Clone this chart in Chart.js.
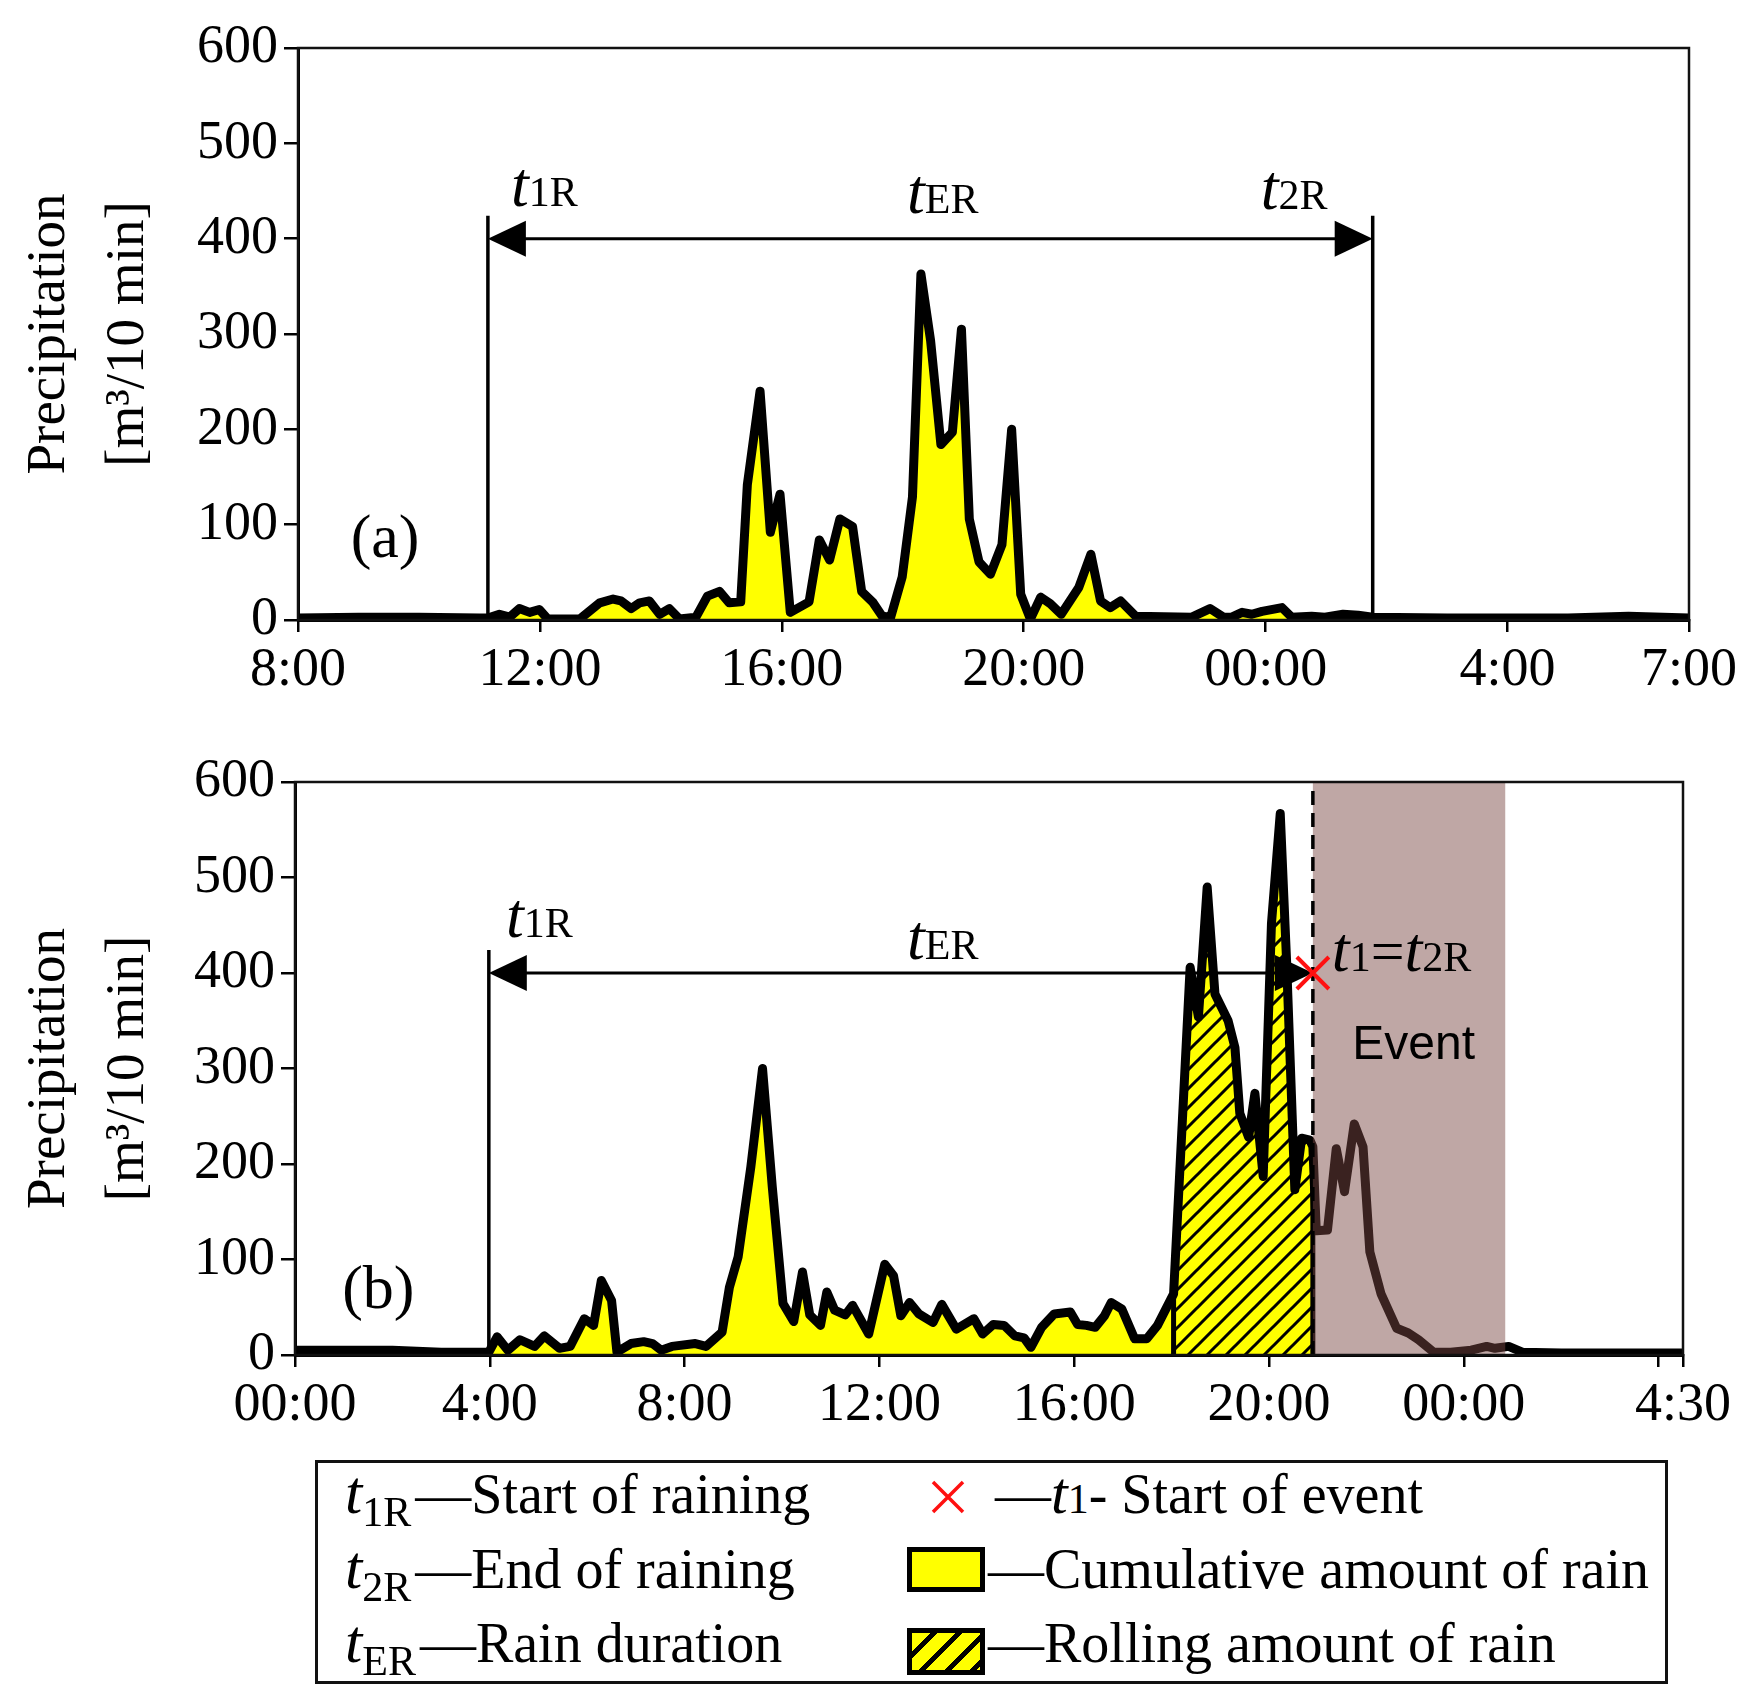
<!doctype html>
<html lang="en">
<head>
<meta charset="utf-8">
<title>Precipitation events</title>
<script src="https://cdn.jsdelivr.net/npm/chart.js"></script>
<style>
  body { margin: 0; background: #fff; }
  .wrap { position: absolute; left: 0; width: 1743px; }
  #legend {
    position: absolute; left: 315px; top: 1460px; width: 1353px; height: 224px;
    border: 3px solid #111; box-sizing: border-box;
    font-family: 'Liberation Serif', 'Times New Roman', serif; font-size: 56px; color: #000;
  }
  .row { position: absolute; line-height: 1; white-space: nowrap; }
  .t { font-style: italic; font-size: 62px; }
  .sub { font-size: 42px; position: relative; top: 13px; margin-right: 4px; }
  .small { font-size: 42px; }
  .swatch { position: absolute; left: 589px; width: 78px; box-sizing: border-box; border: 5px solid #000; background: #ffff00; }
  .hatch { background: repeating-linear-gradient(135deg, #ffff00 0 13px, #000 13px 18px); }
</style>
</head>
<body>
<div class="wrap" style="top:0;height:700px"><canvas id="chartA"></canvas></div>
<div class="wrap" style="top:700px;height:760px"><canvas id="chartB"></canvas></div>

<div id="legend">
  <div class="row" style="left:27px;top:-2px"><span class="t">t</span><span class="sub">1R</span>—Start of raining</div>
  <div class="row" style="left:27px;top:73px"><span class="t">t</span><span class="sub">2R</span>—End of raining</div>
  <div class="row" style="left:27px;top:147px"><span class="t">t</span><span class="sub">ER</span>—Rain duration</div>

  <svg style="position:absolute;left:613px;top:17px" width="34" height="34">
    <path d="M2 2 L32 32 M32 2 L2 32" stroke="#ff1010" stroke-width="3.5"/>
  </svg>
  <div class="row" style="left:677px;top:0px">—<span class="t" style="font-size:60px">t</span><span class="small">1</span>- Start of event</div>
  <div class="swatch" style="top:84px;height:45px"></div>
  <div class="row" style="left:670px;top:78px">—Cumulative amount of rain</div>
  <div class="swatch hatch" style="top:165px;height:47px"></div>
  <div class="row" style="left:670px;top:152px">—Rolling amount of rain</div>
</div>

<script>
// (a) hours after 8:00, precipitation in m3 per 10 min
const hoursA = [
  0, 1, 2, 3, 3.14, 3.33, 3.5, 3.66, 3.83, 3.99,
  4.13, 4.66, 4.99, 5.21, 5.34, 5.51, 5.65, 5.81, 5.98, 6.14,
  6.31, 6.58, 6.77, 6.97, 7.13, 7.32, 7.43, 7.64, 7.81, 7.97,
  8.14, 8.45, 8.62, 8.79, 8.96, 9.17, 9.32, 9.5, 9.66, 9.8,
  9.99, 10.16, 10.3, 10.46, 10.63, 10.82, 10.97, 11.1, 11.26, 11.45,
  11.64, 11.8, 11.95, 12.11, 12.28, 12.44, 12.62, 12.91, 13.11, 13.27,
  13.43, 13.6, 13.85, 14.78, 15.08, 15.3, 15.44, 15.61, 15.77, 15.94,
  16.27, 16.43, 16.76, 16.98, 17.28, 17.53, 17.77, 19, 21, 22,
  23
]
const rainA = [
  2, 3, 3, 2, 2, 6, 3, 12, 8, 11,
  1, 1, 18, 22, 20, 12, 18, 20, 6, 12,
  1, 3, 25, 30, 18, 19, 142, 240, 92, 132,
  8, 19, 84, 63, 106, 98, 30, 19, 4, 3,
  45, 129, 363, 293, 184, 197, 305, 106, 61, 48,
  79, 200, 27, 1, 24, 17, 6, 34, 69, 20,
  13, 20, 4, 3, 12, 3, 3, 8, 6, 9,
  13, 3, 4, 3, 6, 5, 3, 2, 2, 4,
  2
]
const tickHoursA = [0, 4, 8, 12, 16, 20, 23]
const tickLabelsA = ['8:00', '12:00', '16:00', '20:00', '00:00', '4:00', '7:00']
const rainStartA = 3.14
const rainEndA = 17.77

// (b) hours after 00:00
const hoursB = [
  0, 1, 2, 2.5, 3, 3.98, 4.15, 4.37, 4.62, 4.92,
  5.12, 5.43, 5.65, 5.94, 6.13, 6.29, 6.5, 6.61, 6.9, 7.16,
  7.34, 7.52, 7.74, 8.22, 8.44, 8.77, 8.92, 9.1, 9.36, 9.6,
  9.8, 10.02, 10.24, 10.42, 10.57, 10.79, 10.92, 11.08, 11.3, 11.45,
  11.78, 12.11, 12.29, 12.44, 12.62, 12.81, 13.1, 13.28, 13.58, 13.94,
  14.12, 14.34, 14.56, 14.78, 14.97, 15.11, 15.33, 15.59, 15.92, 16.07,
  16.25, 16.43, 16.62, 16.76, 16.98, 17.24, 17.49, 17.71, 18.04, 18.38,
  18.55, 18.73, 18.89, 19.16, 19.3, 19.4, 19.58, 19.71, 19.88, 20.05,
  20.23, 20.36, 20.53, 20.67, 20.84, 20.9, 20.97, 21.2, 21.38, 21.55,
  21.75, 21.93, 22.07, 22.3, 22.62, 22.86, 23.07, 23.38, 23.73, 24.15,
  24.47, 24.64, 24.92, 25.2, 26, 27, 28.5
]
const rainB = [
  5, 5, 5, 4, 3, 3, 19, 5, 16, 9,
  20, 7, 9, 38, 31, 78, 57, 3, 12, 14,
  12, 5, 9, 12, 9, 24, 71, 103, 197, 300,
  176, 54, 35, 87, 42, 31, 66, 47, 42, 52,
  22, 95, 83, 41, 55, 43, 34, 53, 27, 38,
  22, 32, 31, 20, 18, 8, 29, 43, 45, 32,
  31, 29, 41, 55, 48, 17, 17, 31, 64, 406,
  354, 490, 378, 350, 322, 253, 228, 274, 187, 452,
  567, 413, 173, 227, 225, 218, 130, 131, 216, 171,
  242, 218, 108, 64, 28, 23, 16, 3, 3, 5,
  9, 7, 9, 3, 2, 2, 2
]
const tickHoursB = [0, 4, 8, 12, 16, 20, 24, 28, 28.5]
const tickLabelsB = ['00:00', '4:00', '8:00', '12:00', '16:00', '20:00', '00:00', '', '4:30']
const rainStartB = 3.98
const rollStartB = 18.04
const eventStartB = 20.9
const eventEndB = 24.85

const arrowLevel = 400
const markerTop = 424
const yMax = 600
const yStep = 100
const yTitle = ['Precipitation', '[m³/10 min]']

const serif = "'Liberation Serif', 'Times New Roman', serif"
const italic = (s) => `italic ${s}px ${serif}`
const roman = (s) => `${s}px ${serif}`
Chart.defaults.font.family = serif
Chart.defaults.color = '#000'

const pts = (hs, vs) => hs.map((h, i) => ({ x: h, y: vs[i] }))

function axes(tickHours, tickLabels, xMax, xHeight, yWidth) {
  const font = { size: 54 }
  const grid = { drawOnChartArea: false, drawTicks: true, color: '#000', lineWidth: 2.5 }
  return {
    x: {
      type: 'linear', min: 0, max: xMax,
      afterBuildTicks: (s) => { s.ticks = tickHours.map((v) => ({ value: v })) },
      afterFit: (s) => { s.height = xHeight },
      ticks: {
        autoSkip: false, maxRotation: 0, font, padding: 6,
        callback: (v) => { const i = tickHours.indexOf(v); return i < 0 ? '' : tickLabels[i] },
      },
      grid: { ...grid, tickLength: 12 },
      border: { color: '#000', width: 3 },
    },
    y: {
      min: 0, max: yMax,
      afterFit: (s) => { s.width = yWidth },
      ticks: { stepSize: yStep, font, padding: 6 },
      grid: { ...grid, tickLength: 14 },
      border: { color: '#000', width: 3 },
      title: {
        display: true, text: yTitle,
        font: { size: 55, lineHeight: 1.42 }, padding: { top: 11, bottom: 0 },
      },
    },
  }
}

function drawParts(ctx, x, y, parts, align) {
  let w = 0
  parts.forEach(([text, font]) => { ctx.font = font; w += ctx.measureText(text).width })
  if (align === 'center') x -= w / 2
  ctx.textAlign = 'left'
  ctx.textBaseline = 'alphabetic'
  parts.forEach(([text, font]) => {
    ctx.font = font
    ctx.fillText(text, x, y)
    x += ctx.measureText(text).width
  })
}

function drawArrow(ctx, x1, x2, y) {
  ctx.lineWidth = 3
  ctx.beginPath()
  ctx.moveTo(x1 + 10, y)
  ctx.lineTo(x2 - 10, y)
  ctx.stroke()
  ;[[x1, 1], [x2, -1]].forEach(([xt, dir]) => {
    ctx.beginPath()
    ctx.moveTo(xt, y)
    ctx.lineTo(xt + dir * 38, y - 18)
    ctx.lineTo(xt + dir * 38, y + 18)
    ctx.closePath()
    ctx.fill()
  })
}

function drawMarker(ctx, x, y0, y1) {
  ctx.lineWidth = 3.5
  ctx.beginPath()
  ctx.moveTo(x, y0)
  ctx.lineTo(x, y1)
  ctx.stroke()
}

const frame = {
  id: 'frame',
  afterDraw(chart) {
    const { ctx, chartArea: a } = chart
    ctx.save()
    ctx.strokeStyle = '#111'
    ctx.lineWidth = 2.5
    ctx.strokeRect(a.left, a.top, a.right - a.left, a.bottom - a.top)
    ctx.restore()
  },
}

const annotA = {
  id: 'annotA',
  afterDatasetsDraw(chart) {
    const { ctx } = chart
    const X = (v) => chart.scales.x.getPixelForValue(v)
    const Y = (v) => chart.scales.y.getPixelForValue(v)
    ctx.save()
    ctx.strokeStyle = '#000'
    ctx.fillStyle = '#000'
    drawMarker(ctx, X(rainStartA), Y(0), Y(markerTop))
    drawMarker(ctx, X(rainEndA), Y(0), Y(markerTop))
    drawArrow(ctx, X(rainStartA), X(rainEndA), Y(arrowLevel))
    drawParts(ctx, X(3.52), Y(434), [['t', italic(64)], ['1R', roman(42)]])
    drawParts(ctx, X(10.66), Y(427), [['t', italic(64)], ['ER', roman(42)]], 'center')
    drawParts(ctx, X(15.92), Y(431), [['t', italic(64)], ['2R', roman(42)]])
    ctx.font = roman(62)
    ctx.textAlign = 'center'
    ctx.textBaseline = 'middle'
    ctx.fillText('(a)', X(1.44), Y(83))
    ctx.restore()
  },
}

const annotB = {
  id: 'annotB',
  afterDatasetsDraw(chart) {
    const { ctx, chartArea: a } = chart
    const X = (v) => chart.scales.x.getPixelForValue(v)
    const Y = (v) => chart.scales.y.getPixelForValue(v)
    ctx.save()
    // event window, laid over the curve
    ctx.fillStyle = 'rgba(121, 71, 67, 0.48)'
    ctx.fillRect(X(eventStartB), a.top, X(eventEndB) - X(eventStartB), a.bottom - a.top)

    ctx.strokeStyle = '#000'
    ctx.fillStyle = '#000'
    ctx.setLineDash([14, 8])
    drawMarker(ctx, X(eventStartB), Y(0), Y(yMax))
    ctx.setLineDash([])
    drawMarker(ctx, X(rainStartB), Y(0), Y(markerTop))
    drawArrow(ctx, X(rainStartB), X(eventStartB), Y(arrowLevel))

    drawParts(ctx, X(4.33), Y(438), [['t', italic(64)], ['1R', roman(42)]])
    drawParts(ctx, X(13.3), Y(415), [['t', italic(64)], ['ER', roman(42)]], 'center')
    drawParts(ctx, X(21.29), Y(402), [['t', italic(64)], ['1', roman(42)], ['=', roman(60)], ['t', italic(64)], ['2R', roman(42)]])

    ctx.textAlign = 'center'
    ctx.textBaseline = 'middle'
    ctx.font = "48px 'Liberation Sans', Arial, sans-serif"
    ctx.fillText('Event', X(22.97), Y(324))
    ctx.font = roman(62)
    ctx.fillText('(b)', X(1.71), Y(66))

    const cx = X(eventStartB), cy = Y(arrowLevel), r = 16
    ctx.strokeStyle = '#ff1010'
    ctx.lineWidth = 4
    ctx.beginPath()
    ctx.moveTo(cx - r, cy - r); ctx.lineTo(cx + r, cy + r)
    ctx.moveTo(cx + r, cy - r); ctx.lineTo(cx - r, cy + r)
    ctx.stroke()
    ctx.restore()
  },
}

function hatchPattern() {
  const n = 19
  const c = document.createElement('canvas')
  c.width = c.height = n
  const g = c.getContext('2d')
  g.fillStyle = '#ffff00'
  g.fillRect(0, 0, n, n)
  g.strokeStyle = '#000'
  g.lineWidth = 3
  g.beginPath()
  g.moveTo(-3, n + 3); g.lineTo(n + 3, -3)
  g.moveTo(-3, 3); g.lineTo(3, -3)
  g.moveTo(n - 3, n + 3); g.lineTo(n + 3, n - 3)
  g.stroke()
  return g.createPattern(c, 'repeat')
}

const lineStyle = { pointRadius: 0, tension: 0, borderJoinStyle: 'round', borderCapStyle: 'round' }
const common = {
  responsive: true,
  maintainAspectRatio: false,
  animation: false,
  plugins: { legend: { display: false }, tooltip: { enabled: false } },
}

new Chart(document.getElementById('chartA'), {
  type: 'line',
  data: {
    datasets: [{
      ...lineStyle,
      data: pts(hoursA, rainA),
      borderColor: '#000', borderWidth: 9,
      backgroundColor: '#ffff00', fill: 'origin',
    }],
  },
  options: {
    ...common,
    layout: { padding: { top: 48, right: 52, left: 0, bottom: 0 } },
    scales: axes(tickHoursA, tickLabelsA, 23, 80, 298),
  },
  plugins: [annotA, frame],
})

const ptsB = pts(hoursB, rainB)
const cumulativeB = ptsB.filter((p) => p.x >= rainStartB && p.x <= eventStartB)
const rollingB = [
  { x: rollStartB, y: 0 },
  ...ptsB.filter((p) => p.x >= rollStartB && p.x <= eventStartB),
  { x: eventStartB, y: 0 },
]

new Chart(document.getElementById('chartB'), {
  type: 'line',
  data: {
    datasets: [
      { ...lineStyle, data: ptsB, borderColor: '#000', borderWidth: 9, fill: false },
      { ...lineStyle, data: rollingB, borderColor: '#000', borderWidth: 5, backgroundColor: hatchPattern(), fill: 'origin' },
      { ...lineStyle, data: cumulativeB, borderColor: 'rgba(0,0,0,0)', borderWidth: 0, backgroundColor: '#ffff00', fill: 'origin' },
    ],
  },
  options: {
    ...common,
    layout: { padding: { top: 82, right: 60, left: 0, bottom: 0 } },
    scales: axes(tickHoursB, tickLabelsB, 28.5, 105, 295),
  },
  plugins: [annotB, frame],
})
</script>
</body>
</html>
